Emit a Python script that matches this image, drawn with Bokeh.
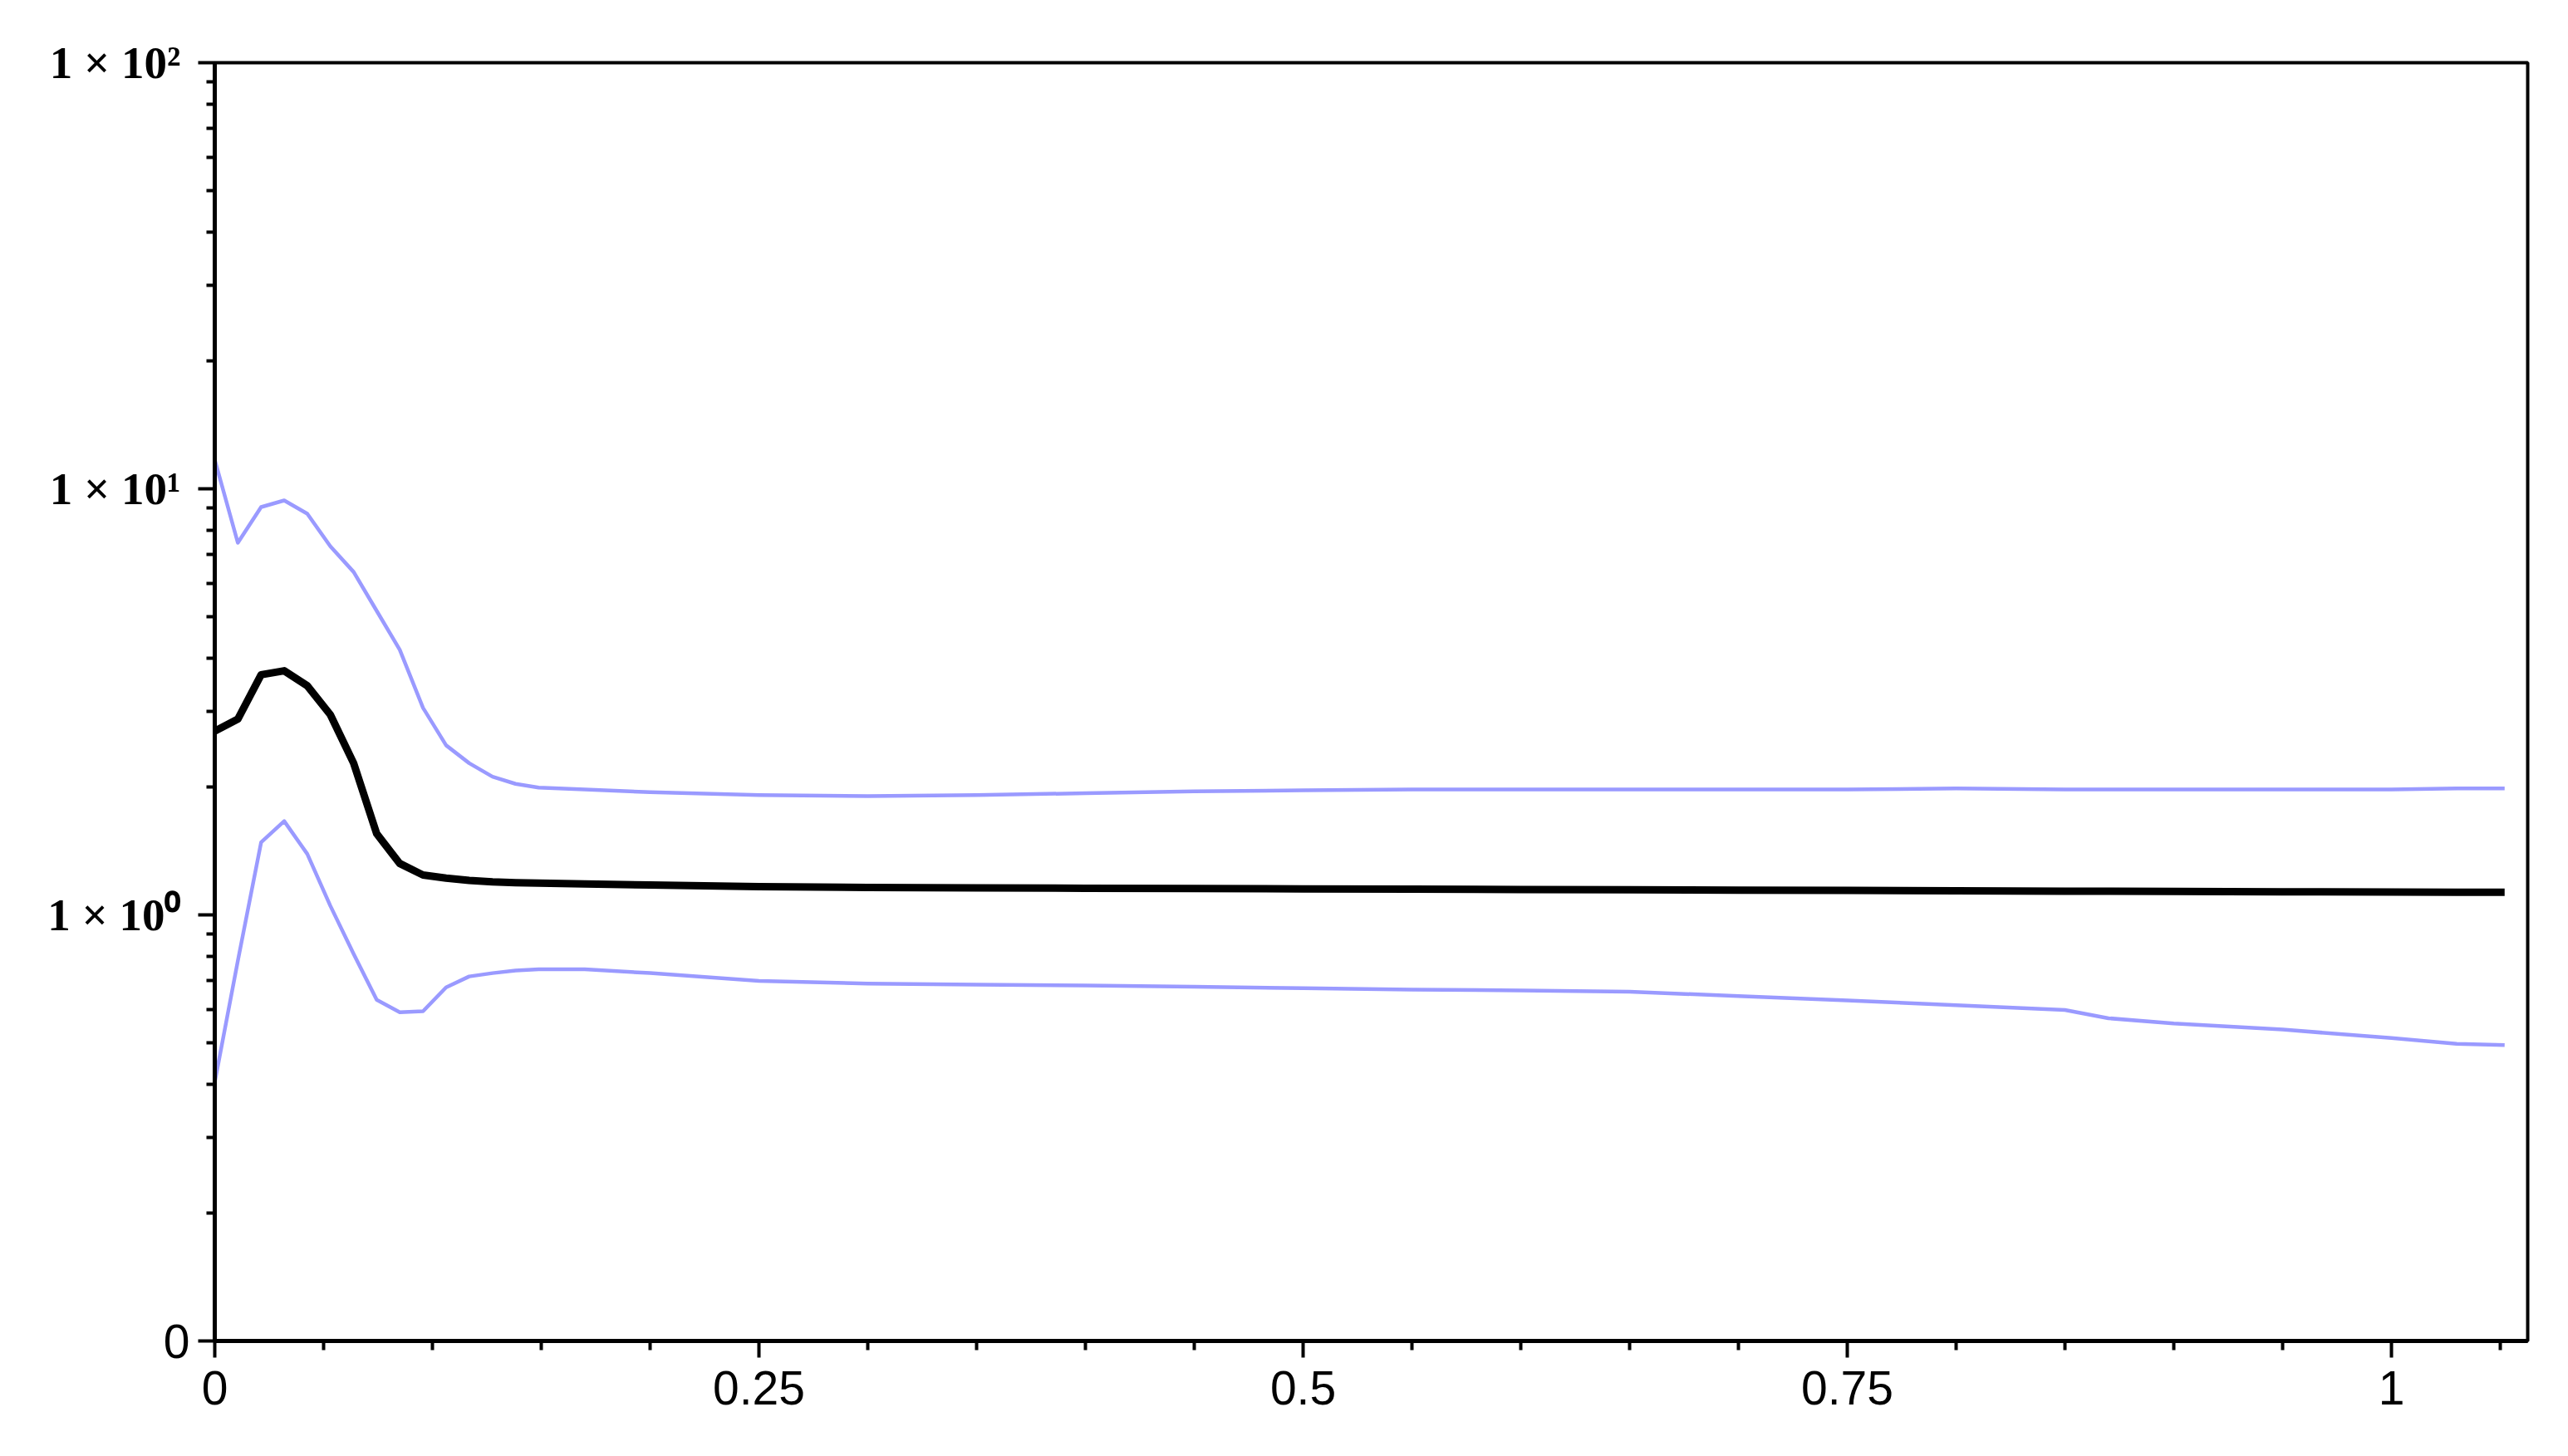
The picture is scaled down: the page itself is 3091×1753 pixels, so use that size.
from bokeh.plotting import figure
from bokeh.models import Range1d, FixedTicker, LogAxis, ColumnDataSource
from bokeh.embed import file_html
from bokeh.resources import INLINE

# ---- data ----
x_vals = [0.0, 0.0106, 0.0213, 0.0319, 0.0425, 0.0531, 0.0638, 0.0744, 0.0850, 0.0957,
          0.1063, 0.1169, 0.1276, 0.1382, 0.1488, 0.17, 0.20, 0.25, 0.30, 0.35,
          0.40, 0.45, 0.50, 0.55, 0.60, 0.65, 0.70, 0.75, 0.80, 0.85,
          0.87, 0.90, 0.95, 1.00, 1.03, 1.052]

upper_vals = [11.7, 7.47, 9.06, 9.39, 8.74, 7.33, 6.38, 5.17, 4.19, 3.06,
              2.50, 2.27, 2.11, 2.03, 1.99, 1.97, 1.94, 1.91, 1.90, 1.91,
              1.93, 1.95, 1.96, 1.97, 1.97, 1.97, 1.97, 1.97, 1.98, 1.97,
              1.97, 1.97, 1.97, 1.97, 1.98, 1.98]

mean_vals = [2.70, 2.88, 3.66, 3.74, 3.45, 2.95, 2.27, 1.55, 1.32, 1.24,
             1.22, 1.205, 1.195, 1.19, 1.187, 1.182, 1.175, 1.165, 1.16, 1.157,
             1.155, 1.153, 1.151, 1.149, 1.147, 1.145, 1.143, 1.141, 1.139, 1.137,
             1.136, 1.135, 1.133, 1.131, 1.13, 1.13]

lower_vals = [0.405, 0.78, 1.48, 1.66, 1.39, 1.05, 0.81, 0.632, 0.591, 0.594,
              0.676, 0.717, 0.73, 0.74, 0.745, 0.745, 0.73, 0.70, 0.69, 0.686,
              0.683, 0.678, 0.673, 0.668, 0.665, 0.66, 0.645, 0.63, 0.614, 0.598,
              0.572, 0.556, 0.538, 0.514, 0.498, 0.495]

x_tick_values = [0, 0.25, 0.5, 0.75, 1]
x_tick_labels = ["0", "0.25", "0.5", "0.75", "1"]
x_minor_values = [0.05, 0.1, 0.15, 0.2, 0.3, 0.35, 0.4, 0.45, 0.55, 0.6, 0.65, 0.7,
                  0.8, 0.85, 0.9, 0.95, 1.05]

y_tick_values = [0.1, 1, 10, 100]
y_tick_labels = ["0", "1 × 10⁰", "1 × 10¹", "1 × 10²"]
y_minor_values = [0.2, 0.3, 0.4, 0.5, 0.6, 0.7, 0.8, 0.9,
                  2, 3, 4, 5, 6, 7, 8, 9,
                  20, 30, 40, 50, 60, 70, 80, 90]

source = ColumnDataSource(dict(x=x_vals, upper=upper_vals, mean=mean_vals, lower=lower_vals))

p = figure(width=3062, height=1738, y_axis_type="log",
           x_range=Range1d(0, 1.0626), y_range=Range1d(0.1, 100),
           output_backend="svg", toolbar_location=None,
           min_border_left=258, min_border_right=20,
           min_border_top=75, min_border_bottom=124)

p.background_fill_color = "white"
p.border_fill_color = "white"
p.outline_line_color = "black"
p.outline_line_width = 4
p.xgrid.visible = False
p.ygrid.visible = False

blue = "#9a9aff"
p.line("x", "upper", source=source, line_color=blue, line_width=4.5, line_join="round")
p.line("x", "lower", source=source, line_color=blue, line_width=4.5, line_join="round")
p.line("x", "mean", source=source, line_color="black", line_width=9, line_join="round")

# x axis
xa = p.xaxis[0]
xa.ticker = FixedTicker(ticks=x_tick_values, minor_ticks=x_minor_values)
xa.major_label_overrides = {v: s for v, s in zip(x_tick_values, x_tick_labels)}
xa.axis_line_width = 5
xa.major_tick_line_width = 4
xa.minor_tick_line_width = 4
xa.major_tick_in = 0
xa.major_tick_out = 20
xa.minor_tick_in = 0
xa.minor_tick_out = 11
xa.major_label_standoff = 16
xa.major_label_text_font = "Liberation Sans"
xa.major_label_text_font_size = "57px"
xa.major_label_text_color = "black"

# inner y axis: line, ticks and the sans "0" at the bottom
ya = p.yaxis[0]
ya.ticker = FixedTicker(ticks=y_tick_values, minor_ticks=y_minor_values)
inner_labels = {v: " " for v in y_tick_values}
inner_labels[y_tick_values[0]] = y_tick_labels[0]
ya.major_label_overrides = inner_labels
ya.axis_line_width = 5
ya.major_tick_line_width = 4
ya.minor_tick_line_width = 4
ya.major_tick_in = 0
ya.major_tick_out = 20
ya.minor_tick_in = 0
ya.minor_tick_out = 10
ya.major_label_standoff = 10
ya.major_label_text_font = "Liberation Sans"
ya.major_label_text_font_size = "57px"
ya.major_label_text_color = "black"

# outer y axis: serif bold power-of-ten labels only
outer_labels = {v: s for v, s in zip(y_tick_values, y_tick_labels)}
outer_labels[y_tick_values[0]] = " "
ya2 = LogAxis(ticker=FixedTicker(ticks=y_tick_values),
              major_label_overrides=outer_labels,
              axis_line_color=None, major_tick_line_color=None,
              minor_tick_line_color=None,
              major_tick_in=0, major_tick_out=0, minor_tick_in=0, minor_tick_out=0,
              major_label_standoff=-24,
              major_label_text_font="Liberation Serif",
              major_label_text_font_style="bold",
              major_label_text_font_size="55px",
              major_label_text_color="black")
p.add_layout(ya2, "left")

open("out.html", "w").write(file_html(p, INLINE))
